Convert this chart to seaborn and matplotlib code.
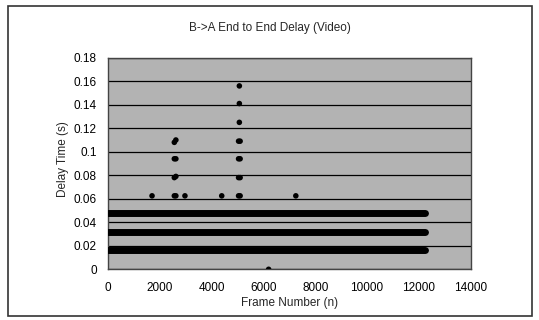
import numpy as np
import pandas as pd
import matplotlib
matplotlib.use("Agg")
import matplotlib.pyplot as plt
import seaborn as sns
from matplotlib.patches import Rectangle

# ---- data ----
title = "B->A End to End Delay (Video)"
x_label = "Frame Number (n)"
y_label = "Delay Time (s)"

# dense delay bands: every frame from start to end sits on one of these levels
band_levels = [0.0165, 0.032, 0.048]
band_start = [0, 0, 0]
band_end = [12250, 12250, 12250]

# sparse outliers
outlier_frames = [2560, 2620, 2560, 2620, 2560, 2620, 2560, 2620,
                  5070, 5070, 5070, 5040, 5100, 5040, 5100, 5040, 5100, 5040, 5100,
                  1700, 2970, 4390, 7250, 6200]
outlier_delays = [0.108, 0.110, 0.094, 0.094, 0.078, 0.079, 0.0625, 0.0625,
                  0.156, 0.141, 0.125, 0.109, 0.109, 0.094, 0.094, 0.078, 0.078, 0.0625, 0.0625,
                  0.0625, 0.0625, 0.0625, 0.0625, 0.0]

x_ticks = [0, 2000, 4000, 6000, 8000, 10000, 12000, 14000]
y_ticks = [0, 0.02, 0.04, 0.06, 0.08, 0.1, 0.12, 0.14, 0.16, 0.18]
y_tick_labels = ["0", "0.02", "0.04", "0.06", "0.08", "0.1", "0.12", "0.14", "0.16", "0.18"]

# ---- figure ----
sns.set_style("white")
plt.rcParams["font.family"] = ["Liberation Sans", "DejaVu Sans"]

fig = plt.figure(figsize=(5.39, 3.20), dpi=100)
ax = fig.add_axes([108 / 539, 1 - 269.3 / 320, (470.7 - 108) / 539, (269.3 - 57.7) / 320])
ax.set_facecolor("#b3b3b3")

# outer chart frame
fig.patches.append(Rectangle((8 / 539, 1 - 316 / 320), (532 - 8) / 539, (316 - 6) / 320,
                             transform=fig.transFigure, fill=False, edgecolor="#333333",
                             linewidth=1.2))

for i, lvl in enumerate(band_levels):
    df = pd.DataFrame({"frame": [band_start[i], band_end[i]], "delay": [lvl, lvl]})
    sns.lineplot(data=df, x="frame", y="delay", ax=ax, color="black", linewidth=5,
                 solid_capstyle="round", zorder=3)

odf = pd.DataFrame({"frame": outlier_frames, "delay": outlier_delays})
sns.scatterplot(data=odf, x="frame", y="delay", ax=ax, color="black", s=16,
                edgecolor="none", zorder=4)

fs = 8.5
ax.set_xlim(0, 14000)
ax.set_ylim(0, 0.18)
ax.set_xticks(x_ticks)
ax.set_xticklabels([str(t) for t in x_ticks])
ax.set_yticks(y_ticks)
ax.set_yticklabels(y_tick_labels)
ax.yaxis.grid(True, color="black", linewidth=0.9)
ax.set_axisbelow(True)
ax.tick_params(axis="both", length=0, labelsize=fs, colors="black")
ax.tick_params(axis="y", pad=8)
ax.tick_params(axis="x", pad=9)
for sp in ax.spines.values():
    sp.set_color("#444444")
    sp.set_linewidth(1)

ax.set_xlabel(x_label, fontsize=fs, labelpad=2)
ax.set_ylabel(y_label, fontsize=fs, labelpad=6)
ax.yaxis.set_label_coords(-0.108, 0.52)
fig.text(270 / 539, 1 - 28 / 320, title, ha="center", va="center", fontsize=fs)

fig.savefig("out.png", dpi=100)
